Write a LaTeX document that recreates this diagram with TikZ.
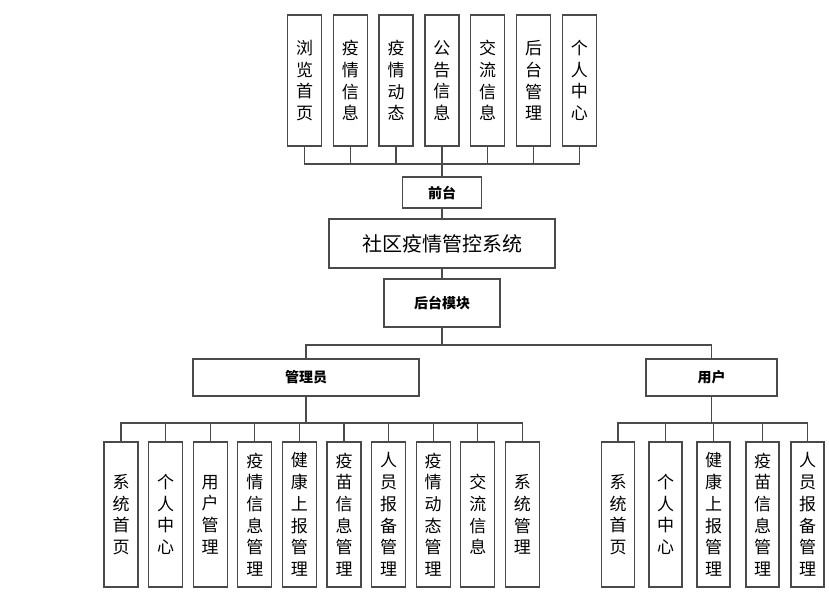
\documentclass[tikz,border=0pt]{standalone}
\usepackage{fontspec}
\setmainfont{Noto Sans CJK SC}
\definecolor{edge}{HTML}{4A4A4A}

\begin{document}
\begin{tikzpicture}[x=1pt,y=-1pt,line width=1.3pt,draw=edge,
  vbox/.style={draw=edge,fill=white,minimum width=34pt,inner sep=0pt,align=center,font=\fontsize{17}{21.7}\selectfont},
  hbox/.style={draw=edge,fill=white,inner sep=0pt,font=\fontsize{14}{16}\selectfont\bfseries}]
 \useasboundingbox (0,0) rectangle (829,592);
 % front end
 \foreach \t [count=\i] in {{浏\\览\\首\\页},{疫\\情\\信\\息},{疫\\情\\动\\态},{公\\告\\信\\息},{交\\流\\信\\息},{后\\台\\管\\理},{个\\人\\中\\心}}
   \node[vbox,minimum height=131pt] (f\i) at ({304.5+45.8*(\i-1)},80.5) {\t};
 \node[hbox,minimum width=79pt,minimum height=31pt] (qt) at (442,192.5) {前台};
 \node[hbox,minimum width=226pt,minimum height=49pt,font=\fontsize{20}{22}\selectfont] (sys) at (442,243.5) {社区疫情管控系统};
 \node[hbox,minimum width=116pt,minimum height=48pt] (ht) at (442,303) {后台模块};
 \coordinate (tb) at (442,164);
 \foreach \i in {1,...,7}
   \draw (f\i.south) |- (tb);
 \draw (tb) -- (qt.north);
 \draw (qt) -- (sys) -- (ht);
 % back end
 \node[hbox,minimum width=226pt,minimum height=37pt] (adm) at (306,377.5) {管理员};
 \node[hbox,minimum width=131pt,minimum height=37pt] (usr) at (711.5,377.5) {用户};
 \coordinate (hb) at (442,345);
 \draw (ht.south) -- (hb);
 \draw (adm.north) |- (hb) -| (usr.north);
 % admin
 \foreach \t [count=\i] in {{系\\统\\首\\页},{个\\人\\中\\心},{用\\户\\管\\理},{疫\\情\\信\\息\\管\\理},{健\\康\\上\\报\\管\\理},{疫\\苗\\信\\息\\管\\理},{人\\员\\报\\备\\管\\理},{疫\\情\\动\\态\\管\\理},{交\\流\\信\\息},{系\\统\\管\\理}}
   \node[vbox,minimum height=145pt] (a\i) at ({121+44.6*(\i-1)},514.5) {\t};
 \coordinate (ab) at (306,423);
 \foreach \i in {1,...,10}
   \draw (a\i.north) |- (ab);
 \draw (ab) -- (adm.south);
 % user
 \foreach \t/\x [count=\i] in {{系\\统\\首\\页}/618,{个\\人\\中\\心}/665.5,{健\\康\\上\\报\\管\\理}/713.5,{疫\\苗\\信\\息\\管\\理}/762.5,{人\\员\\报\\备\\管\\理}/807.5}
   \node[vbox,minimum width=33pt,minimum height=145pt] (u\i) at (\x,514.5) {\t};
 \coordinate (ub) at (711.5,423);
 \foreach \i in {1,...,5}
   \draw (u\i.north) |- (ub);
 \draw (ub) -- (usr.south);
\end{tikzpicture}
\end{document}
